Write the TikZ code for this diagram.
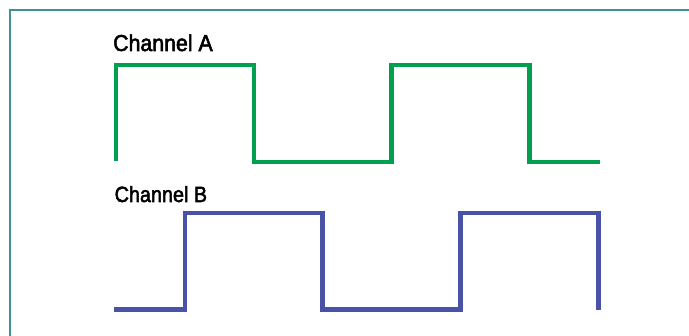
\documentclass[tikz,border=0pt]{standalone}
\usepackage{fontspec}
\setmainfont{Liberation Sans}
\newfontfamily\labelfont[FakeBold=2.5]{Liberation Sans}
\definecolor{frameteal}{RGB}{60,148,140}
\definecolor{chgreen}{RGB}{0,160,80}
\definecolor{chblue}{RGB}{72,82,166}
\begin{document}
\begin{tikzpicture}[x=1pt,y=-1pt,
  wave/.style={line width=4.2pt,line join=miter,line cap=butt},
  chlabel/.style={anchor=base west,inner sep=0pt,font=\labelfont\fontsize{22}{24}\selectfont,xscale=0.9,transform shape}]
\useasboundingbox (0,0) rectangle (689,336);
% frame
\draw[frameteal,line width=2pt] (9.5,10) -- (689,10);
\draw[frameteal,line width=1.4pt] (10,9) -- (10,336);
% channel A
\node[chlabel,font=\labelfont\fontsize{23}{25}\selectfont,xscale=1.03] (labA) at (113,51) {Channel A};
\draw[wave,chgreen] (116,161) -- (116,65) -- (254,65) -- (254,162) -- (391.5,162)
  -- (391.5,65) -- (529.5,65) -- (529.5,162) -- (600,162);
% channel B
\node[chlabel] (labB) at (114.5,202) {Channel B};
\draw[wave,chblue] (114,309.5) -- (185,309.5) -- (185,213) -- (322.5,213) -- (322.5,309.5)
  -- (460.5,309.5) -- (460.5,213) -- (598.5,213) -- (598.5,310);
\end{tikzpicture}
\end{document}
